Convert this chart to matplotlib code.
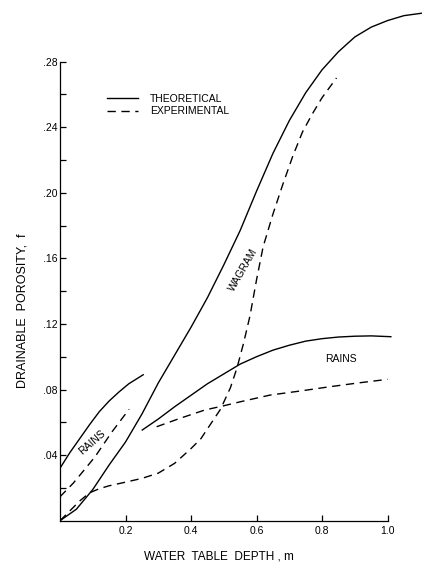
import matplotlib
matplotlib.use("Agg")
import matplotlib.pyplot as plt
from matplotlib.lines import Line2D

plt.rcParams['font.family'] = ['Liberation Sans', 'DejaVu Sans']

# Wagram soil, theoretical (solid) and experimental (dashed)
wagram_theo_x = [0.0, 0.05, 0.10, 0.15, 0.20, 0.25, 0.30, 0.35, 0.40, 0.45, 0.50, 0.55,
                 0.60, 0.65, 0.70, 0.75, 0.80, 0.85, 0.90, 0.95, 1.00, 1.05, 1.105]
wagram_theo_y = [0.0, 0.007, 0.019, 0.034, 0.048, 0.065, 0.084, 0.101, 0.118, 0.136, 0.156, 0.177,
                 0.201, 0.224, 0.244, 0.261, 0.275, 0.286, 0.295, 0.301, 0.305, 0.308, 0.3095]
wagram_exp_x = [0.0, 0.03, 0.06, 0.09, 0.12, 0.15, 0.20, 0.25, 0.30, 0.35, 0.40, 0.43, 0.46,
                0.49, 0.52, 0.54, 0.56, 0.58, 0.60, 0.62, 0.65, 0.68, 0.71, 0.74, 0.77, 0.80, 0.844]
wagram_exp_y = [0.0, 0.006, 0.012, 0.017, 0.0195, 0.0213, 0.0235, 0.0258, 0.029, 0.035, 0.044, 0.050, 0.059,
                0.068, 0.081, 0.093, 0.108, 0.125, 0.147, 0.167, 0.187, 0.205, 0.222, 0.237, 0.248, 0.258, 0.270]

# Rains soil, shallow range (left) and deeper range (right)
rains_theo1_x = [0.0, 0.03, 0.06, 0.09, 0.12, 0.15, 0.18, 0.21, 0.254]
rains_theo1_y = [0.032, 0.0415, 0.050, 0.0585, 0.0665, 0.073, 0.0785, 0.0835, 0.089]
rains_exp1_x = [0.0, 0.041, 0.07, 0.107, 0.158, 0.211]
rains_exp1_y = [0.0146, 0.023, 0.030, 0.039, 0.054, 0.068]
rains_theo2_x = [0.251, 0.30, 0.35, 0.40, 0.45, 0.50, 0.55, 0.60, 0.65, 0.70, 0.75, 0.80,
                 0.85, 0.90, 0.95, 1.01]
rains_theo2_y = [0.0553, 0.062, 0.0695, 0.0765, 0.0835, 0.0895, 0.0955, 0.100, 0.104, 0.107, 0.1095, 0.111,
                 0.112, 0.1125, 0.1127, 0.1122]
rains_exp2_x = [0.295, 0.366, 0.442, 0.498, 0.55, 0.641, 0.73, 0.824, 0.91, 1.0]
rains_exp2_y = [0.0573, 0.0624, 0.0675, 0.070, 0.0725, 0.0766, 0.079, 0.0817, 0.084, 0.0862]

x_ticks = [0.2, 0.4, 0.6, 0.8, 1.0]
x_labels = ['0.2', '0.4', '0.6', '0.8', '1.0']
y_ticks = [0.04, 0.08, 0.12, 0.16, 0.20, 0.24, 0.28]
y_labels = ['.04', '.08', '.12', '.16', '.20', '.24', '.28']
y_minor = [0.02, 0.06, 0.10, 0.14, 0.18, 0.22, 0.26]

fig = plt.figure(figsize=(4.22, 5.69), dpi=100)
ax = fig.add_axes([0.1422, 0.0849, 0.8578, 0.915])

lw = 1.0
dash = (6, 4)
ax.plot(wagram_theo_x, wagram_theo_y, color='black', lw=lw)
ax.plot(wagram_exp_x, wagram_exp_y, color='black', lw=lw, dashes=dash)
ax.plot(rains_theo1_x, rains_theo1_y, color='black', lw=lw)
ax.plot(rains_exp1_x, rains_exp1_y, color='black', lw=lw, dashes=dash)
ax.plot(rains_theo2_x, rains_theo2_y, color='black', lw=lw)
ax.plot(rains_exp2_x, rains_exp2_y, color='black', lw=lw, dashes=dash)

ax.set_xlim(0, 1.105)
ax.set_ylim(0, 0.3175)
ax.spines['top'].set_visible(False)
ax.spines['right'].set_visible(False)
ax.spines['left'].set_bounds(0, 0.28)
ax.spines['bottom'].set_bounds(0, 1.0)
for s in ('left', 'bottom'):
    ax.spines[s].set_linewidth(0.9)

ax.set_xticks(x_ticks)
ax.set_xticklabels(x_labels)
ax.set_yticks(y_ticks)
ax.set_yticklabels(y_labels)
ax.set_yticks(y_minor, minor=True)
ax.tick_params(axis='both', which='both', direction='in', width=0.9, labelsize=7.5)
ax.tick_params(axis='y', which='both', length=4.5, pad=2)
ax.tick_params(axis='x', which='major', length=4, pad=4)

ax.set_xlabel('WATER  TABLE  DEPTH , m', fontsize=8.5)
ax.set_ylabel('DRAINABLE  POROSITY,  f', fontsize=9)
ax.xaxis.set_label_coords((219 - 60) / 362, -(557 - 520.7) / 520.7)
ax.yaxis.set_label_coords(-(60 - 22) / 362, (520.7 - 311) / 520.7)
ax.xaxis.label.set_va('center')
ax.yaxis.label.set_va('center')

ax.text(0.099, 0.048, 'RAINS', fontsize=7.5, rotation=41, ha='center', va='center')
ax.text(0.559, 0.153, 'WAGRAM', fontsize=7.5, rotation=60, ha='center', va='center')
ax.text(0.858, 0.0986, 'RAINS', fontsize=7.5, ha='center', va='center')

handles = [Line2D([], [], color='black', lw=lw),
           Line2D([], [], color='black', lw=lw, dashes=dash)]
ax.legend(handles, ['THEORETICAL', 'EXPERIMENTAL'], frameon=False, fontsize=7.5,
          loc='upper left', bbox_to_anchor=(107 / 422, 1 - 93.5 / 569),
          bbox_transform=fig.transFigure, handlelength=3.0, handletextpad=1.1,
          labelspacing=0.28, borderpad=0, borderaxespad=0)

fig.savefig('out.png', dpi=100)
